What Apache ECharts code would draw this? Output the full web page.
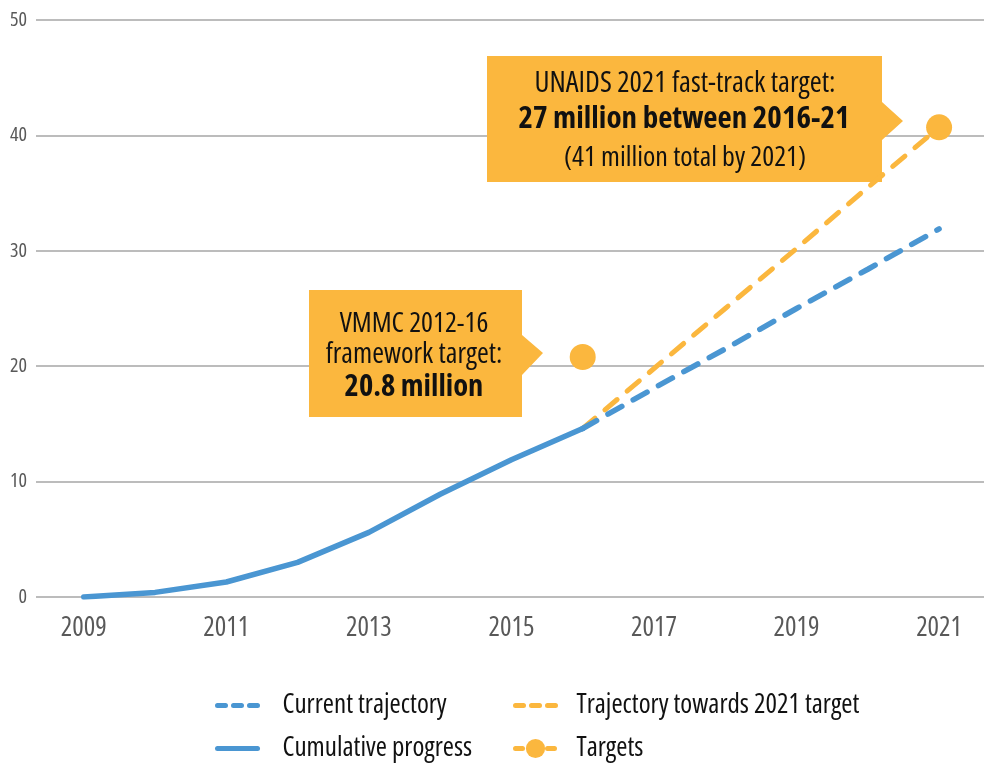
<!DOCTYPE html>
<html>
<head>
<meta charset="utf-8">
<script src="https://cdn.jsdelivr.net/npm/echarts@6/dist/echarts.min.js"></script>
<style>
html,body{margin:0;padding:0;background:#fff;}
#chart{width:984px;height:765px;}
</style>
</head>
<body>
<div id="chart"></div>
<script>
// ---- data ----
const years = [2009, 2010, 2011, 2012, 2013, 2014, 2015, 2016, 2017, 2018, 2019, 2020, 2021];
const cumulativeProgress = [0, 0.4, 1.3, 3.0, 5.6, 8.9, 11.9, 14.6, null, null, null, null, null];
const currentTrajectory = [null, null, null, null, null, null, null, 14.6, 18.1, 21.5, 25.0, 28.4, 31.9];
const trajectoryTowardsTarget = [null, null, null, null, null, null, null, 14.6, 19.8, 25.0, 30.2, 35.5, 40.7];
const targets = [null, null, null, null, null, null, null, 20.8, null, null, null, null, 40.7];
const xTickLabels = [2009, 2011, 2013, 2015, 2017, 2019, 2021];
const yTicks = [0, 10, 20, 30, 40, 50];

const seriesNames = {
  current: 'Current trajectory',
  toward: 'Trajectory towards 2021 target',
  cumulative: 'Cumulative progress',
  targets: 'Targets'
};

const BLUE = '#4A96D2';
const YELLOW = '#FBB73E';
const FAMILY = "'Open Sans', 'Roboto Condensed', sans-serif";
const STRETCH = 'condensed';

function pairs(vals) { return years.map((y, i) => [y, vals[i] == null ? '-' : vals[i]]); }
function font(size, weight) { return STRETCH + ' ' + (weight || 'normal') + ' ' + size + 'px ' + FAMILY; }

const chart = echarts.init(document.getElementById('chart'), null, {renderer: 'canvas'});

const hiddenSymbol = {opacity: 0};
const legendCommon = {
  orient: 'vertical',
  padding: 0,
  height: 90,
  itemWidth: 40,
  itemHeight: 24,
  itemGap: 16,
  selectedMode: false,
  textStyle: {fontFamily: FAMILY, fontStyle: STRETCH, fontSize: 27, color: '#111'},
  lineStyle: {width: 5, cap: 'round'}
};

const option = {
  animation: false,
  backgroundColor: '#fff',
  grid: {left: 36, right: 0, top: 20, bottom: 168, containLabel: false},
  xAxis: {
    type: 'value',
    min: 2008.33,
    max: 2021.63,
    axisLine: {show: false},
    axisTick: {show: false},
    splitLine: {show: false},
    axisLabel: {
      customValues: xTickLabels,
      formatter: v => String(v),
      fontFamily: FAMILY, fontStyle: STRETCH, fontSize: 27, color: '#595959', margin: 18
    }
  },
  yAxis: {
    type: 'value',
    min: 0, max: 50, interval: 10,
    axisLine: {show: false},
    axisTick: {show: false},
    splitLine: {lineStyle: {color: '#A6A6A6', width: 1.5}},
    axisLabel: {fontFamily: FAMILY, fontStyle: STRETCH, fontSize: 20, color: '#595959', margin: 9,
      customValues: yTicks}
  },
  legend: [
    Object.assign({}, legendCommon, {
      left: 215, top: 692,
      textStyle: Object.assign({}, legendCommon.textStyle, {padding: [0, 0, 0, 20]}),
      data: [
        {name: seriesNames.current, itemStyle: hiddenSymbol, lineStyle: {type: [8, 8], cap: 'round', width: 5}},
        {name: seriesNames.cumulative, itemStyle: hiddenSymbol, lineStyle: {cap: 'round', width: 5}}
      ]
    }),
    Object.assign({}, legendCommon, {
      left: 513, top: 692,
      textStyle: Object.assign({}, legendCommon.textStyle, {padding: [0, 0, 0, 16]}),
      data: [
        {name: seriesNames.toward, itemStyle: hiddenSymbol, lineStyle: {type: [8, 8], cap: 'round', width: 5}},
        {name: seriesNames.targets, lineStyle: {type: [7, 9], cap: 'round', width: 5}}
      ]
    })
  ],
  series: [
    {
      name: seriesNames.toward, type: 'line', data: pairs(trajectoryTowardsTarget),
      symbol: 'none', connectNulls: false, z: 2,
      lineStyle: {color: YELLOW, width: 5, type: [16, 13], cap: 'round'},
      itemStyle: {color: YELLOW}
    },
    {
      name: seriesNames.current, type: 'line', data: pairs(currentTrajectory),
      symbol: 'none', z: 3,
      lineStyle: {color: BLUE, width: 5.5, type: [16, 13], cap: 'round'},
      itemStyle: {color: BLUE}
    },
    {
      name: seriesNames.cumulative, type: 'line', data: pairs(cumulativeProgress),
      symbol: 'none', z: 4,
      lineStyle: {color: BLUE, width: 5.5, cap: 'round', join: 'round'},
      itemStyle: {color: BLUE}
    },
    {
      name: seriesNames.targets, type: 'line', data: pairs(targets),
      symbol: 'circle', symbolSize: 26, showSymbol: true, showAllSymbol: true, z: 5,
      lineStyle: {color: YELLOW, width: 5},
      itemStyle: {color: YELLOW}
    }
  ],
  graphic: [
    {
      type: 'polygon', z: 1,
      shape: {points: [[487, 56], [882, 56], [882, 102], [903, 121], [882, 140], [882, 182], [487, 182]]},
      style: {fill: YELLOW}
    },
    {type: 'text', z: 10, style: {text: 'UNAIDS 2021 fast-track target:', x: 685, y: 84, align: 'center', verticalAlign: 'middle', fill: '#111', font: font(29)}},
    {type: 'text', z: 10, style: {text: '27 million between 2016-21', x: 684, y: 119, align: 'center', verticalAlign: 'middle', fill: '#111', font: font(31, 'bold')}},
    {type: 'text', z: 10, style: {text: '(41 million total by 2021)', x: 685, y: 158, align: 'center', verticalAlign: 'middle', fill: '#111', font: font(28)}},
    {
      type: 'polygon', z: 1,
      shape: {points: [[309, 290], [522, 290], [522, 335], [543, 353], [522, 375], [522, 417], [309, 417]]},
      style: {fill: YELLOW}
    },
    {type: 'text', z: 10, style: {text: 'VMMC 2012-16', x: 414, y: 324, align: 'center', verticalAlign: 'middle', fill: '#111', font: font(28)}},
    {type: 'text', z: 10, style: {text: 'framework target:', x: 414, y: 355, align: 'center', verticalAlign: 'middle', fill: '#111', font: font(28.5)}},
    {type: 'text', z: 10, style: {text: '20.8 million', x: 414, y: 387, align: 'center', verticalAlign: 'middle', fill: '#111', font: font(30.5, 'bold')}}
  ]
};

chart.setOption(option);
</script>
</body>
</html>
